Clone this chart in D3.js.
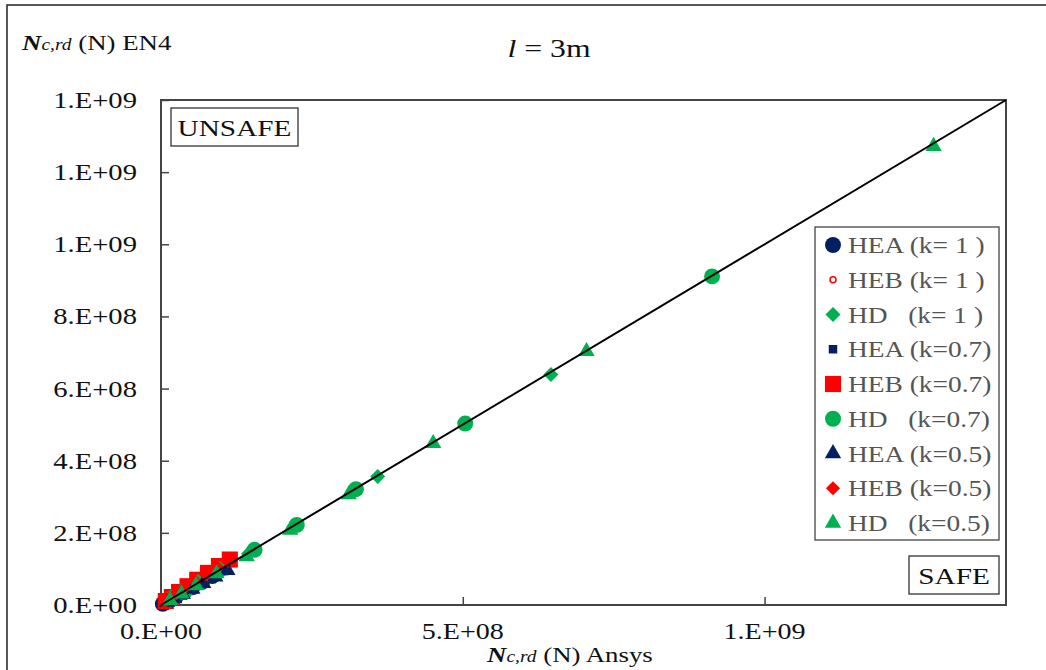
<!DOCTYPE html>
<html>
<head>
<meta charset="utf-8">
<script src="https://cdn.jsdelivr.net/npm/d3@7"></script>
<style>
  html, body { margin: 0; padding: 0; background: #fff; }
  svg { display: block; }
  text { font-family: "Liberation Serif", "Times New Roman", serif; white-space: pre; }
</style>
</head>
<body>
<svg id="chart" width="1046" height="670"></svg>
<script>
// Axial resistance N_c,rd: [Ansys, EN4] pairs per section type and buckling factor k
const heaK1   = [[3e6,3.2e6],[8e6,8.2e6],[1.5e7,1.45e7],[2.5e7,2.4e7],[3.8e7,3.6e7],[5.2e7,4.9e7],[6.8e7,6.4e7],[8.5e7,8.0e7]];
const hebK1   = [[4e6,4.6e6],[1e7,1.1e7],[1.8e7,1.95e7],[2.9e7,3.1e7],[4.2e7,4.5e7],[5.7e7,6.1e7],[7.4e7,7.9e7],[9.2e7,9.8e7]];
const hdK1    = [[6.46e8,6.39e8],[3.59e8,3.56e8],[2.2e8,2.17e8],[1.45e8,1.42e8],[9.5e7,9.3e7],[6e7,5.8e7],[3.5e7,3.4e7],[1.5e7,1.5e7]];
const heaK07  = [[5e6,4.5e6],[1.2e7,1.05e7],[2.2e7,1.9e7],[3.5e7,3.0e7],[5e7,4.4e7],[6.8e7,6.0e7],[8.8e7,7.8e7],[1.05e8,9.4e7]];
const hebK07  = [[8e6,1.1e7],[1.8e7,2.2e7],[3e7,3.6e7],[4.4e7,5.2e7],[6e7,7e7],[7.8e7,8.9e7],[9.6e7,1.08e8],[1.14e8,1.26e8]];
const hdK07   = [[9.13e8,9.11e8],[5.04e8,5.03e8],[3.23e8,3.21e8],[2.25e8,2.22e8],[1.55e8,1.53e8],[1.0e8,1.0e8],[6.5e7,6.4e7],[4.0e7,4.0e7],[2.0e7,2.0e7]];
const heaK05  = [[1e7,8e6],[2.2e7,1.8e7],[3.6e7,3.0e7],[5.2e7,4.4e7],[7e7,6.0e7],[9e7,7.8e7],[1.1e8,9.6e7]];
const hebK05  = [[6e6,9e6],[1.5e7,2e7],[2.6e7,3.3e7],[4e7,4.9e7],[5.6e7,6.6e7],[7.4e7,8.5e7],[9.3e7,1.05e8],[1.1e8,1.22e8]];
const hdK05   = [[1.28e9,1.272e9],[7.05e8,7.03e8],[4.51e8,4.48e8],[3.11e8,3.06e8],[2.14e8,2.08e8],[1.42e8,1.34e8],[9.2e7,8.7e7],[5.8e7,5.4e7],[3.4e7,3.1e7],[1.5e7,1.3e7]];

const seriesNames = ["HEA (k= 1 )","HEB (k= 1 )","HD   (k= 1 )","HEA (k=0.7)","HEB (k=0.7)","HD   (k=0.7)","HEA (k=0.5)","HEB (k=0.5)","HD   (k=0.5)"];
const seriesData  = [heaK1, hebK1, hdK1, heaK07, hebK07, hdK07, heaK05, hebK05, hdK05];

const xTickValues = [0, 5e8, 1e9];
const xTickLabels = ["0.E+00", "5.E+08", "1.E+09"];
const yTickValues = [0, 2e8, 4e8, 6e8, 8e8, 1e9, 1.2e9, 1.4e9];
const yTickLabels = ["0.E+00", "2.E+08", "4.E+08", "6.E+08", "8.E+08", "1.E+09", "1.E+09", "1.E+09"];
const axisMax = 1.4e9;

// Marker styles for each series
const NAVY = "#002060", RED = "#ff0000", GREEN = "#00b050";
const styles = [
  { type: d3.symbolCircle,   size: 200, fill: NAVY,   stroke: "none", rot: 0 },
  { type: d3.symbolCircle,   size: 28,  fill: "#fff", stroke: RED,    rot: 0 },
  { type: d3.symbolSquare,   size: 112, fill: GREEN,  stroke: "none", rot: 45 },
  { type: d3.symbolSquare,   size: 72,  fill: NAVY,   stroke: "none", rot: 0 },
  { type: d3.symbolSquare,   size: 260, fill: RED,    stroke: "none", rot: 0 },
  { type: d3.symbolCircle,   size: 200, fill: GREEN,  stroke: "none", rot: 0 },
  { type: d3.symbolTriangle, size: 115, fill: NAVY,   stroke: "none", rot: 0 },
  { type: d3.symbolSquare,   size: 100, fill: RED,    stroke: "none", rot: 45 },
  { type: d3.symbolTriangle, size: 115, fill: GREEN,  stroke: "none", rot: 0 }
];

const svg = d3.select("#chart");
const SX = 1.22; // horizontal glyph stretch

function stretchedText(parent, x, y, anchor) {
  return parent.append("g")
    .attr("transform", `translate(${x},${y}) scale(${SX},1)`)
    .append("text")
    .attr("text-anchor", anchor);
}

// Outer frame
svg.append("rect").attr("x", 7).attr("y", 5).attr("width", 1060).attr("height", 690)
  .attr("fill", "none").attr("stroke", "#222").attr("stroke-width", 1.5);

const plot = { left: 161, right: 1006, top: 100, bottom: 605 };
const x = d3.scaleLinear().domain([0, axisMax]).range([plot.left, plot.right]);
const y = d3.scaleLinear().domain([0, axisMax]).range([plot.bottom, plot.top]);

// Plot area border
svg.append("rect").attr("x", plot.left).attr("y", plot.top)
  .attr("width", plot.right - plot.left).attr("height", plot.bottom - plot.top)
  .attr("fill", "none").attr("stroke", "#444").attr("stroke-width", 2);

// Axes: inward ticks, labels drawn separately for the stretched serif style
const yAxis = d3.axisLeft(y).tickValues(yTickValues).tickSize(-8).tickFormat("");
svg.append("g").attr("transform", `translate(${plot.left},0)`).call(yAxis)
  .call(g => g.select(".domain").remove())
  .call(g => g.selectAll("line").attr("stroke", "#444").attr("stroke-width", 1.5));
const xAxis = d3.axisBottom(x).tickValues(xTickValues).tickSize(-8).tickFormat("");
svg.append("g").attr("transform", `translate(0,${plot.bottom})`).call(xAxis)
  .call(g => g.select(".domain").remove())
  .call(g => g.selectAll("line").attr("stroke", "#444").attr("stroke-width", 1.5));

yTickValues.forEach((v, i) => {
  stretchedText(svg, 137, y(v) + 8, "end").attr("font-size", 23.5).attr("fill", "#111").text(yTickLabels[i]);
});
xTickValues.forEach((v, i) => {
  stretchedText(svg, x(v), 639, "middle").attr("font-size", 23).attr("fill", "#111").text(xTickLabels[i]);
});

// Markers
const symbolGen = d3.symbol();
seriesData.forEach((data, si) => {
  const st = styles[si];
  svg.append("g").selectAll("path").data(data).join("path")
    .attr("d", symbolGen.type(st.type).size(st.size)())
    .attr("transform", d => `translate(${x(d[0])},${y(d[1])}) rotate(${st.rot})`)
    .attr("fill", st.fill)
    .attr("stroke", st.stroke)
    .attr("stroke-width", st.stroke === "none" ? 0 : 1.5);
});

// Equality line N_EN4 = N_Ansys
svg.append("line")
  .attr("x1", x(0)).attr("y1", y(0)).attr("x2", x(axisMax)).attr("y2", y(axisMax))
  .attr("stroke", "#000").attr("stroke-width", 2);

// UNSAFE / SAFE boxes
svg.append("rect").attr("x", 171).attr("y", 108).attr("width", 127).attr("height", 38)
  .attr("fill", "#fff").attr("stroke", "#333").attr("stroke-width", 1.3);
stretchedText(svg, 234.5, 136, "middle").attr("font-size", 24).attr("fill", "#111").text("UNSAFE");
svg.append("rect").attr("x", 909).attr("y", 556).attr("width", 90).attr("height", 38)
  .attr("fill", "#fff").attr("stroke", "#333").attr("stroke-width", 1.3);
stretchedText(svg, 954, 584, "middle").attr("font-size", 24).attr("fill", "#111").text("SAFE");

// Legend
const legend = svg.append("g");
legend.append("rect").attr("x", 815).attr("y", 227).attr("width", 184).attr("height", 313)
  .attr("fill", "#fff").attr("stroke", "#444").attr("stroke-width", 1.3);
seriesNames.forEach((name, i) => {
  const cy = 245 + i * 34.75;
  const st = styles[i];
  legend.append("path")
    .attr("d", symbolGen.type(st.type).size(st.size)())
    .attr("transform", `translate(833,${cy}) rotate(${st.rot})`)
    .attr("fill", st.fill).attr("stroke", st.stroke)
    .attr("stroke-width", st.stroke === "none" ? 0 : 1.5);
  stretchedText(legend, 848, cy + 8, "start").attr("font-size", 22.5).attr("fill", "#555").text(name);
});

// Title
const title = stretchedText(svg, 549, 57, "middle").attr("font-size", 26).attr("fill", "#111");
title.append("tspan").attr("font-style", "italic").text("l");
title.append("tspan").text(" = 3m");

// Axis titles
const yTitle = stretchedText(svg, 22, 50, "start").attr("font-size", 22).attr("fill", "#111");
yTitle.append("tspan").attr("font-style", "italic").attr("font-weight", "bold").text("N");
yTitle.append("tspan").attr("font-style", "italic").attr("font-size", 16).text("c,rd");
yTitle.append("tspan").text(" (N) EN4");

const xTitle = stretchedText(svg, 487, 662, "start").attr("font-size", 22).attr("fill", "#111");
xTitle.append("tspan").attr("font-style", "italic").attr("font-weight", "bold").text("N");
xTitle.append("tspan").attr("font-style", "italic").attr("font-size", 16).text("c,rd");
xTitle.append("tspan").text(" (N) Ansys");
</script>
</body>
</html>
